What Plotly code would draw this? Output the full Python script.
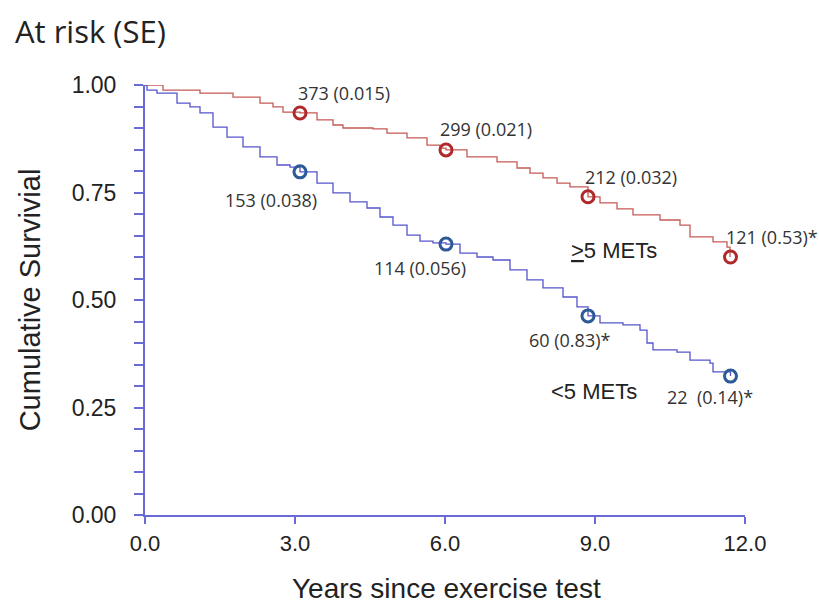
import plotly.graph_objects as go

# Step-curve readings (years, cumulative survival)
hi_t = [0.0, 0.36, 1.1, 1.76, 2.3, 2.56, 2.76, 3.1, 3.44, 3.76, 3.96, 4.56, 4.84, 5.24, 5.64, 5.9, 6.02,
        6.44, 7.04, 7.44, 7.7, 7.96, 8.24, 8.5, 8.86, 9.1, 9.44, 9.76, 10.3, 10.7, 10.9, 11.36, 11.64, 11.7]
hi_s = [1.0, 0.988, 0.981, 0.972, 0.958, 0.949, 0.937, 0.935, 0.919, 0.907, 0.900, 0.898, 0.888, 0.877,
        0.860, 0.853, 0.849, 0.833, 0.821, 0.807, 0.795, 0.784, 0.772, 0.763, 0.740, 0.726, 0.712, 0.698,
        0.686, 0.674, 0.647, 0.635, 0.623, 0.600]

lo_t = [0.0, 0.04, 0.24, 0.64, 0.9, 1.1, 1.36, 1.64, 1.96, 2.3, 2.64, 2.9, 3.1, 3.44, 3.76, 4.1, 4.44,
        4.7, 4.96, 5.24, 5.5, 5.76, 6.02, 6.3, 6.64, 6.96, 7.3, 7.64, 7.96, 8.36, 8.64, 8.86, 9.1, 9.56,
        9.9, 10.04, 10.16, 10.64, 10.9, 11.3, 11.36, 11.71]
lo_s = [1.0, 0.988, 0.981, 0.958, 0.949, 0.935, 0.902, 0.879, 0.856, 0.833, 0.814, 0.809, 0.798, 0.772,
        0.749, 0.728, 0.714, 0.693, 0.674, 0.651, 0.637, 0.633, 0.630, 0.609, 0.600, 0.593, 0.570, 0.547,
        0.528, 0.507, 0.484, 0.463, 0.447, 0.442, 0.430, 0.400, 0.384, 0.379, 0.360, 0.353, 0.333, 0.323]

mark_t = [3.1, 6.02, 8.86, 11.71]
hi_mark = [0.935, 0.849, 0.740, 0.600]
lo_mark = [0.798, 0.630, 0.463, 0.323]
hi_labels = ["373 (0.015)", "299 (0.021)", "212 (0.032)", "121 (0.53)*"]
lo_labels = ["153 (0.038)", "114 (0.056)", "60 (0.83)*", "22  (0.14)*"]

x_ticks = [0, 3, 6, 9, 12]
x_ticktext = ["0.0", "3.0", "6.0", "9.0", "12.0"]
y_ticks = [0, 0.25, 0.5, 0.75, 1.0]
y_ticktext = ["0.00", "0.25", "0.50", "0.75", "1.00"]

RED_LINE = "#c55a57"
RED_MARK = "#b0282a"
BLUE_LINE = "#5555cc"
BLUE_MARK = "#2c5a96"
AXIS = "#6a6ad4"

fig = go.Figure()
fig.add_trace(go.Scatter(x=hi_t, y=hi_s, mode="lines", line=dict(color=RED_LINE, width=1.3, shape="hv"),
                         showlegend=False, hoverinfo="skip"))
fig.add_trace(go.Scatter(x=lo_t, y=lo_s, mode="lines", line=dict(color=BLUE_LINE, width=1.3, shape="hv"),
                         showlegend=False, hoverinfo="skip"))
fig.add_trace(go.Scatter(x=mark_t, y=hi_mark, mode="markers", cliponaxis=False,
                         marker=dict(symbol="circle-open", size=12, color=RED_MARK, line=dict(width=3, color=RED_MARK)),
                         showlegend=False))
fig.add_trace(go.Scatter(x=mark_t, y=lo_mark, mode="markers", cliponaxis=False,
                         marker=dict(symbol="circle-open", size=12, color=BLUE_MARK, line=dict(width=3, color=BLUE_MARK)),
                         showlegend=False))

LBL = dict(family="Open Sans, Noto Sans, sans-serif", size=18, color="#333333")
# label offsets in pixels (right, up) relative to markers
hi_off = [(44, 20), (40, 21), (43, 20), (41, 20)]
lo_off = [(-29, -28), (-26, -24), (-19, -24), (-21, -21)]
for t, s, txt, (dx, dy) in zip(mark_t, hi_mark, hi_labels, hi_off):
    fig.add_annotation(x=t, y=s, text=txt, showarrow=False, xshift=dx, yshift=dy, font=LBL)
for t, s, txt, (dx, dy) in zip(mark_t, lo_mark, lo_labels, lo_off):
    fig.add_annotation(x=t, y=s, text=txt, showarrow=False, xshift=dx, yshift=dy, font=LBL)

GRP = dict(family="Liberation Sans, Arial, sans-serif", size=22, color="#222222")
fig.add_annotation(x=9.38, y=0.616, text="<u>></u>5 METs", showarrow=False, font=GRP)
fig.add_annotation(x=8.98, y=0.288, text="&lt;5 METs", showarrow=False, font=GRP)

fig.add_annotation(xref="paper", yref="paper", x=-0.22, y=1.125, xanchor="left", yanchor="middle",
                   text="At risk (SE)", showarrow=False,
                   font=dict(family="Open Sans, Noto Sans, sans-serif", size=31, color="#222222"))

# x-axis title placed as a paper annotation
fig.add_annotation(xref="paper", yref="paper", x=0.502, y=-0.172, xanchor="center", yanchor="middle",
                   text="Years since exercise test", showarrow=False,
                   font=dict(family="Liberation Sans, Arial, sans-serif", size=28, color="#222222"))

fig.update_layout(
    width=819, height=603,
    margin=dict(l=145, r=74, t=85, b=88),
    paper_bgcolor="white", plot_bgcolor="white",
    xaxis=dict(range=[0, 12], tickvals=x_ticks, ticktext=x_ticktext, showgrid=False, zeroline=False,
               automargin=False,
               showline=True, linecolor=AXIS, linewidth=2, ticks="outside", ticklen=7, tickwidth=2,
               tickcolor=AXIS, ticklabelstandoff=1,
               tickfont=dict(family="Liberation Sans, Arial, sans-serif", size=22, color="#222222")),
    yaxis=dict(range=[0, 1], tickvals=y_ticks, ticktext=y_ticktext, showgrid=False, zeroline=False,
               automargin=False,
               showline=True, linecolor=AXIS, linewidth=2, ticks="outside", ticklen=9, tickwidth=2,
               tickcolor=AXIS, ticklabelstandoff=13,
               minor=dict(dtick=0.05, ticks="outside", ticklen=9, tickwidth=1.5, tickcolor=AXIS, showgrid=False),
               tickfont=dict(family="Liberation Sans, Arial, sans-serif", size=23, color="#222222"),
               title=dict(text="Cumulative Survivial", standoff=22,
                          font=dict(family="Liberation Sans, Arial, sans-serif", size=29, color="#222222"))),
)

# remove the page's default body margin so the 819x603 figure fills the window exactly
fig.write_html("out.html", config={"displayModeBar": False},
               post_script="document.body.style.margin='0';document.body.style.overflow='hidden';")
